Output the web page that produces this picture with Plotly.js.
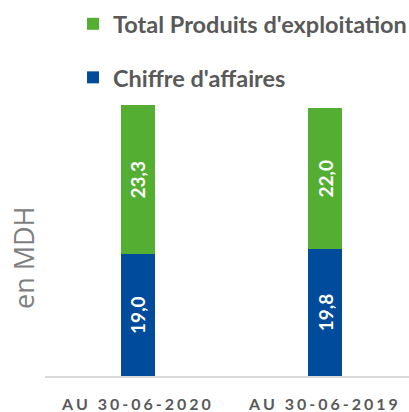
<!DOCTYPE html>
<html><head><meta charset="utf-8">
<script src="https://cdn.plot.ly/plotly-3.0.1.min.js"></script>
<style>
html,body{margin:0;padding:0;background:#fff;overflow:hidden;}
.xtick text{letter-spacing:3px;}
</style>
</head><body>
<div id="chart" style="width:409px;height:412px;"></div>
<script>
const categories = ["AU 30-06-2020", "AU 30-06-2019"];
const chiffreAffaires = [19.0, 19.8];
const totalProduits = [23.3, 22.0];
const seriesNames = ["Chiffre d'affaires", "Total Produits d'exploitation"];
const yTitle = "en MDH";

const labelFont = {family: "Lato, 'Open Sans', sans-serif", size: 19, color: "#ffffff", weight: "bold"};
const traces = [
  {type: "bar", x: categories, y: chiffreAffaires, name: seriesNames[0], legendgroup: "a", legendrank: 2,
   marker: {color: "#004B9B"}, width: 0.18,
   texttemplate: "%{y:.1f}", textposition: "inside", insidetextanchor: "middle", textangle: -90,
   textfont: labelFont, hoverinfo: "none"},
  {type: "bar", x: categories, y: totalProduits, name: seriesNames[1], legendgroup: "b", legendrank: 1,
   marker: {color: "#54AE32"}, width: 0.18,
   texttemplate: "%{y:.1f}", textposition: "inside", insidetextanchor: "middle", textangle: -90,
   textfont: labelFont, hoverinfo: "none"}
];
const layout = {
  width: 409, height: 412,
  margin: {l: 45, r: 0, t: 100, b: 36, autoexpand: false},
  barmode: "stack",
  separators: ", ",
  paper_bgcolor: "#ffffff", plot_bgcolor: "#ffffff",
  showlegend: true,
  legend: {x: 0.077, xanchor: "left", y: 1.355, yanchor: "top", traceorder: "grouped",
           tracegroupgap: 20, bgcolor: "rgba(0,0,0,0)",
           font: {family: "Lato, 'Open Sans', sans-serif", size: 23.5, color: "#595959", weight: "bold"}},
  xaxis: {type: "category", range: [-0.497, 1.449], showgrid: false, zeroline: false,
          showline: true, linecolor: "#d9d9d9", linewidth: 2, ticks: "", ticklabelstandoff: 13,
          tickfont: {family: "Lato, 'Open Sans', sans-serif", size: 16, color: "#595959", weight: "bold"}},
  yaxis: {range: [0, 43.1], showgrid: false, zeroline: false, showline: false, showticklabels: false, ticks: ""},
  annotations: [{text: yTitle, xref: "paper", yref: "paper", x: -0.0604, y: 0.4275,
                 xanchor: "center", yanchor: "middle", textangle: -90, showarrow: false,
                 font: {family: "'Open Sans', sans-serif", size: 27, color: "#7f7f7f"}}]
};
Plotly.newPlot("chart", traces, layout, {staticPlot: true, displayModeBar: false});
</script>
</body></html>
